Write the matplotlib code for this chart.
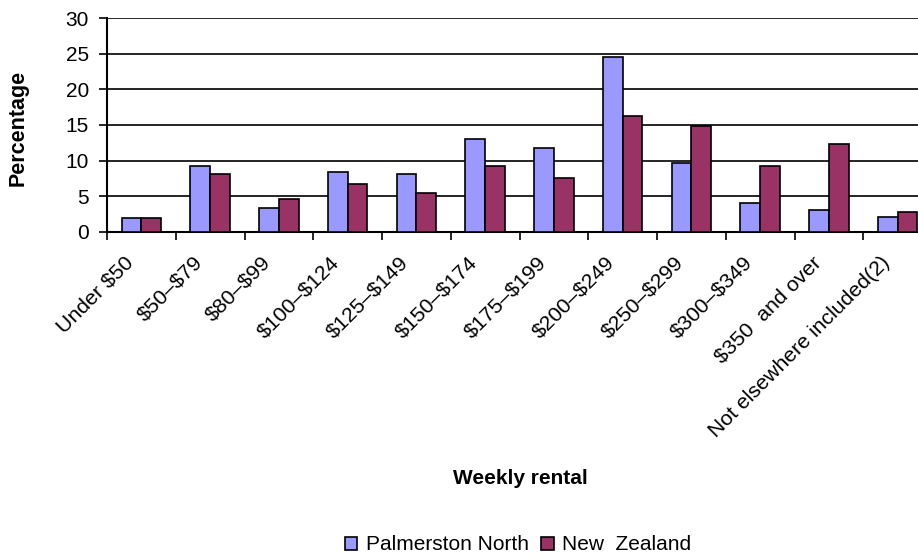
import matplotlib.pyplot as plt
import matplotlib.transforms as mtransforms
import numpy as np

categories = ["Under $50", "$50\u2013$79", "$80\u2013$99", "$100\u2013$124", "$125\u2013$149",
              "$150\u2013$174", "$175\u2013$199", "$200\u2013$249", "$250\u2013$299",
              "$300\u2013$349", "$350  and over", "Not elsewhere included(2)"]
palmerston = [1.9, 9.2, 3.3, 8.4, 8.1, 13.1, 11.7, 24.6, 9.7, 4.1, 3.0, 2.1]
new_zealand = [1.9, 8.1, 4.6, 6.7, 5.5, 9.2, 7.5, 16.2, 14.8, 9.2, 12.3, 2.7]

plt.rcParams['font.family'] = ['Liberation Sans', 'DejaVu Sans']

fig = plt.figure(figsize=(9.18, 5.55), dpi=100)
ax = fig.add_axes([107 / 918, 1 - 231.7 / 555, 825 / 918, 213.4 / 555])

x = np.arange(len(categories))
w = 1 / 3.5
ax.bar(x - w / 2, palmerston, w, color='#9999FF', edgecolor='black', linewidth=1.2,
       label='Palmerston North', zorder=3)
ax.bar(x + w / 2, new_zealand, w, color='#993366', edgecolor='black', linewidth=1.2,
       label='New  Zealand', zorder=3)

ax.set_xlim(-0.5, len(categories) - 0.5)
ax.set_ylim(0, 30)
ax.set_yticks(range(0, 31, 5))
ax.yaxis.grid(True, color='black', linewidth=1.2, zorder=0)
for s in ['top', 'right']:
    ax.spines[s].set_visible(False)
ax.spines['left'].set_linewidth(1.5)
ax.spines['bottom'].set_linewidth(1.5)

# ticks between categories, labels at the centres
ax.set_xticks(np.arange(len(categories) + 1) - 0.5)
ax.set_xticklabels([])
ax.tick_params(axis='x', which='major', length=6, width=1.2, direction='out')
ax.set_xticks(x, minor=True)
ax.set_xticklabels([c.replace('$', r'\$') for c in categories], minor=True, rotation=45,
                   ha='right', va='center', rotation_mode='anchor', fontsize=15.3)
ax.tick_params(axis='x', which='minor', length=0, pad=20)
shift = mtransforms.ScaledTranslation(-0.11, 0, fig.dpi_scale_trans)
for lbl in ax.get_xticklabels(minor=True):
    lbl.set_transform(lbl.get_transform() + shift)
ax.tick_params(axis='y', length=6, width=1.2, labelsize=15, pad=7)

fig.text(18 / 918, 1 - 128 / 555, 'Percentage', rotation=90, fontsize=15.5, fontweight='bold',
         ha='center', va='center')
fig.text(520 / 918, 1 - 478 / 555, 'Weekly rental', fontsize=15, fontweight='bold',
         ha='center', va='center')

fig.legend(loc='center', bbox_to_anchor=(518 / 918, 1 - 545 / 555), ncol=2, frameon=False,
           fontsize=15, handlelength=0.6, handleheight=0.6, handletextpad=0.4,
           columnspacing=0.6)

fig.savefig('out.png', dpi=100)
